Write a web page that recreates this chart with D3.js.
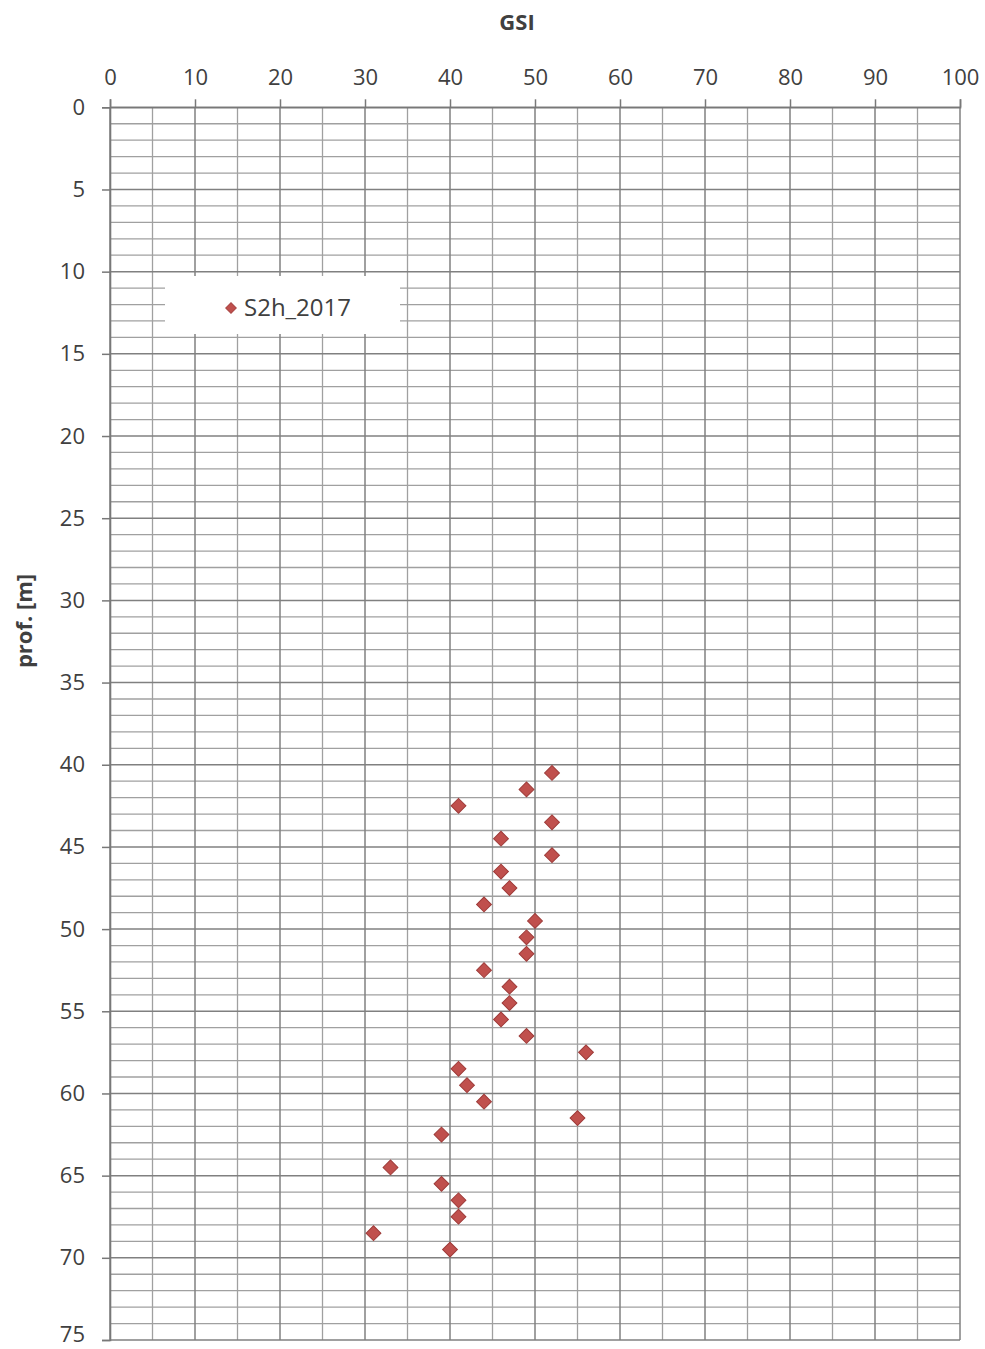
<!DOCTYPE html>
<html>
<head>
<meta charset="utf-8">
<script src="https://cdn.jsdelivr.net/npm/d3@7"></script>
<style>
  html, body { margin: 0; padding: 0; background: #fff; }
  svg { display: block; }
  text { font-family: "Open Sans", "Liberation Sans", sans-serif; fill: #404040; }
</style>
</head>
<body>
<svg id="chart" width="985" height="1349"></svg>
<script>
// GSI readings along borehole S2h (2017), one per metre of depth
const depths = [40.5, 41.5, 42.5, 43.5, 44.5, 45.5, 46.5, 47.5, 48.5, 49.5,
                50.5, 51.5, 52.5, 53.5, 54.5, 55.5, 56.5, 57.5, 58.5, 59.5,
                60.5, 61.5, 62.5, 64.5, 65.5, 66.5, 67.5, 68.5, 69.5];
const gsiValues = [52, 49, 41, 52, 46, 52, 46, 47, 44, 50,
                   49, 49, 44, 47, 47, 46, 49, 56, 41, 42,
                   44, 55, 39, 33, 39, 41, 41, 31, 40];
const xTicks = [0, 10, 20, 30, 40, 50, 60, 70, 80, 90, 100];
const yTicks = [0, 5, 10, 15, 20, 25, 30, 35, 40, 45, 50, 55, 60, 65, 70, 75];
const seriesName = "S2h_2017";
const xTitle = "GSI";
const yTitle = "prof. [m]";

const svg = d3.select("#chart");
const plotLeft = 110, plotRight = 960, plotTop = 107.3, plotBottom = 1340;

const x = d3.scaleLinear().domain([0, 100]).range([plotLeft, plotRight]);
const y = d3.scaleLinear().domain([0, 75]).range([plotTop, plotBottom]);

const grid = svg.append("g");
// minor grid lines: every 5 GSI, every metre of depth
grid.selectAll(".vminor").data(d3.range(5, 100, 10)).join("line")
  .attr("x1", d => x(d)).attr("x2", d => x(d))
  .attr("y1", plotTop).attr("y2", plotBottom)
  .attr("stroke", "#a0a0a0").attr("stroke-width", 1.3);
grid.selectAll(".hminor").data(d3.range(1, 75).filter(d => d % 5 !== 0)).join("line")
  .attr("x1", plotLeft).attr("x2", plotRight)
  .attr("y1", d => y(d)).attr("y2", d => y(d))
  .attr("stroke", "#a0a0a0").attr("stroke-width", 1.3);
// major grid lines
grid.selectAll(".vmajor").data(xTicks).join("line")
  .attr("x1", d => x(d)).attr("x2", d => x(d))
  .attr("y1", plotTop).attr("y2", plotBottom)
  .attr("stroke", "#808080").attr("stroke-width", 1.5);
grid.selectAll(".hmajor").data(yTicks).join("line")
  .attr("x1", plotLeft).attr("x2", plotRight)
  .attr("y1", d => y(d)).attr("y2", d => y(d))
  .attr("stroke", "#808080").attr("stroke-width", 1.5);

// axes along the top and the left
const xAxis = svg.append("g").attr("transform", `translate(0,${plotTop})`)
  .call(d3.axisTop(x).tickValues(xTicks).tickSize(8).tickPadding(14).tickFormat(d3.format("d")));
const yAxis = svg.append("g").attr("transform", `translate(${plotLeft},0)`)
  .call(d3.axisLeft(y).tickValues(yTicks).tickSize(8).tickPadding(17).tickFormat(d3.format("d")));
[xAxis, yAxis].forEach(a => {
  a.select(".domain").attr("stroke", "#787878").attr("stroke-width", 1.6);
  a.selectAll(".tick line").attr("stroke", "#787878").attr("stroke-width", 1.5);
  a.selectAll(".tick text").attr("font-size", 22).attr("fill", "#404040")
    .attr("font-family", "'Open Sans', sans-serif");
});
// the deepest label sits on the lower edge; lift it so it stays on the page
yAxis.selectAll(".tick").filter(d => d === 75).select("text").attr("dy", "0.08em");

// legend box (covers the grid underneath)
const lg = svg.append("g");
lg.append("rect").attr("x", 165).attr("y", 276).attr("width", 235).attr("height", 58)
  .attr("fill", "#fff");
lg.append("path").attr("d", d3.symbol(d3.symbolSquare, 56))
  .attr("transform", "translate(231,308) rotate(45)")
  .attr("fill", "#c0504d").attr("stroke", "#a94442").attr("stroke-width", 1);
lg.append("text").attr("x", 244).attr("y", 316).attr("font-size", 24).text(seriesName);

// data points
svg.append("g").selectAll("path").data(depths).join("path")
  .attr("d", d3.symbol(d3.symbolSquare, 110))
  .attr("transform", (d, i) => `translate(${x(gsiValues[i])},${y(d)}) rotate(45)`)
  .attr("fill", "#c0504d").attr("stroke", "#9e3b39").attr("stroke-width", 1);

// axis titles
svg.append("text").attr("x", 517).attr("y", 30).attr("text-anchor", "middle")
  .attr("font-size", 22).attr("font-weight", "bold").text(xTitle);
svg.append("text").attr("transform", "translate(32,621) rotate(-90)")
  .attr("text-anchor", "middle").attr("font-size", 22).attr("font-weight", "bold").text(yTitle);
</script>
</body>
</html>
